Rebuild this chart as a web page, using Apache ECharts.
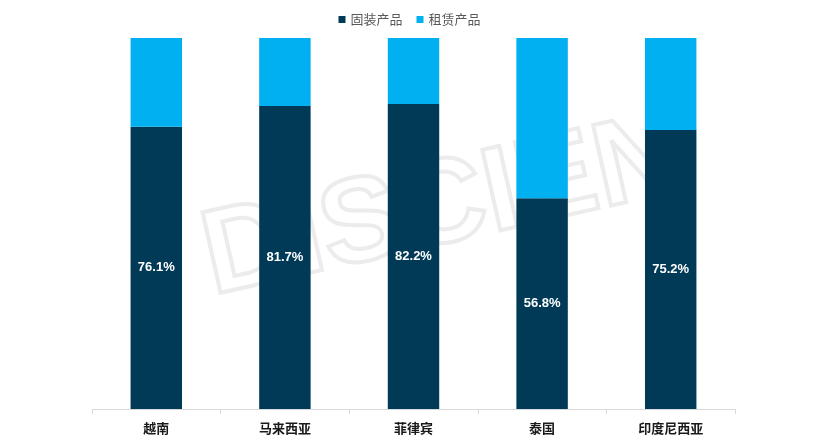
<!DOCTYPE html>
<html><head><meta charset="utf-8">
<script src="https://cdn.jsdelivr.net/npm/echarts@6/dist/echarts.min.js"></script>
<style>html,body{margin:0;padding:0;background:#fff}#c{width:819px;height:447px}</style>
</head><body><div id="c"></div>
<script>
const categories = ['越南', '马来西亚', '菲律宾', '泰国', '印度尼西亚'];
const ownValues = [76.1, 81.7, 82.2, 56.8, 75.2];
const leaseValues = [23.9, 18.3, 17.8, 43.2, 24.8];
const seriesNames = ['固装产品', '租赁产品'];

const chart = echarts.init(document.getElementById('c'));
chart.setOption({
  animation: false,
  graphic: [{
    type: 'text', left: 190, top: 95, rotation: 0.22, z: -10,
    style: { text: 'DISCIEN', font: 'bold 120px "Liberation Sans", Arial', fill: 'rgba(0,0,0,0)', stroke: '#ececec', lineWidth: 4 }
  }],
  legend: {
    top: 8, left: 'center', itemWidth: 7, itemHeight: 7, itemGap: 14,
    icon: 'rect',
    textStyle: { color: '#595959', fontSize: 13, fontFamily: 'Noto Sans CJK SC' },
    data: seriesNames
  },
  grid: { left: 92, right: 84, top: 38, bottom: 38 },
  xAxis: {
    type: 'category', data: categories,
    axisLine: { lineStyle: { color: '#d9d9d9' } },
    axisTick: { show: true, lineStyle: { color: '#d9d9d9' }, length: 5 },
    axisLabel: { color: '#1a1a1a', fontWeight: 'bold', fontSize: 13, margin: 13, fontFamily: 'Noto Sans CJK SC' }
  },
  yAxis: { type: 'value', min: 0, max: 100, show: false, splitLine: { show: false } },
  series: [
    {
      name: seriesNames[0], type: 'bar', stack: 'a', data: ownValues, barWidth: '40%',
      itemStyle: { color: '#003A57' },
      label: { show: true, position: 'inside', color: '#fff', fontWeight: 'bold', fontSize: 13,
        fontFamily: 'Liberation Sans, Arial', formatter: p => p.value.toFixed(1) + '%' }
    },
    {
      name: seriesNames[1], type: 'bar', stack: 'a', data: leaseValues, barWidth: '40%',
      itemStyle: { color: '#00B0F0' }
    }
  ]
});
</script></body></html>
